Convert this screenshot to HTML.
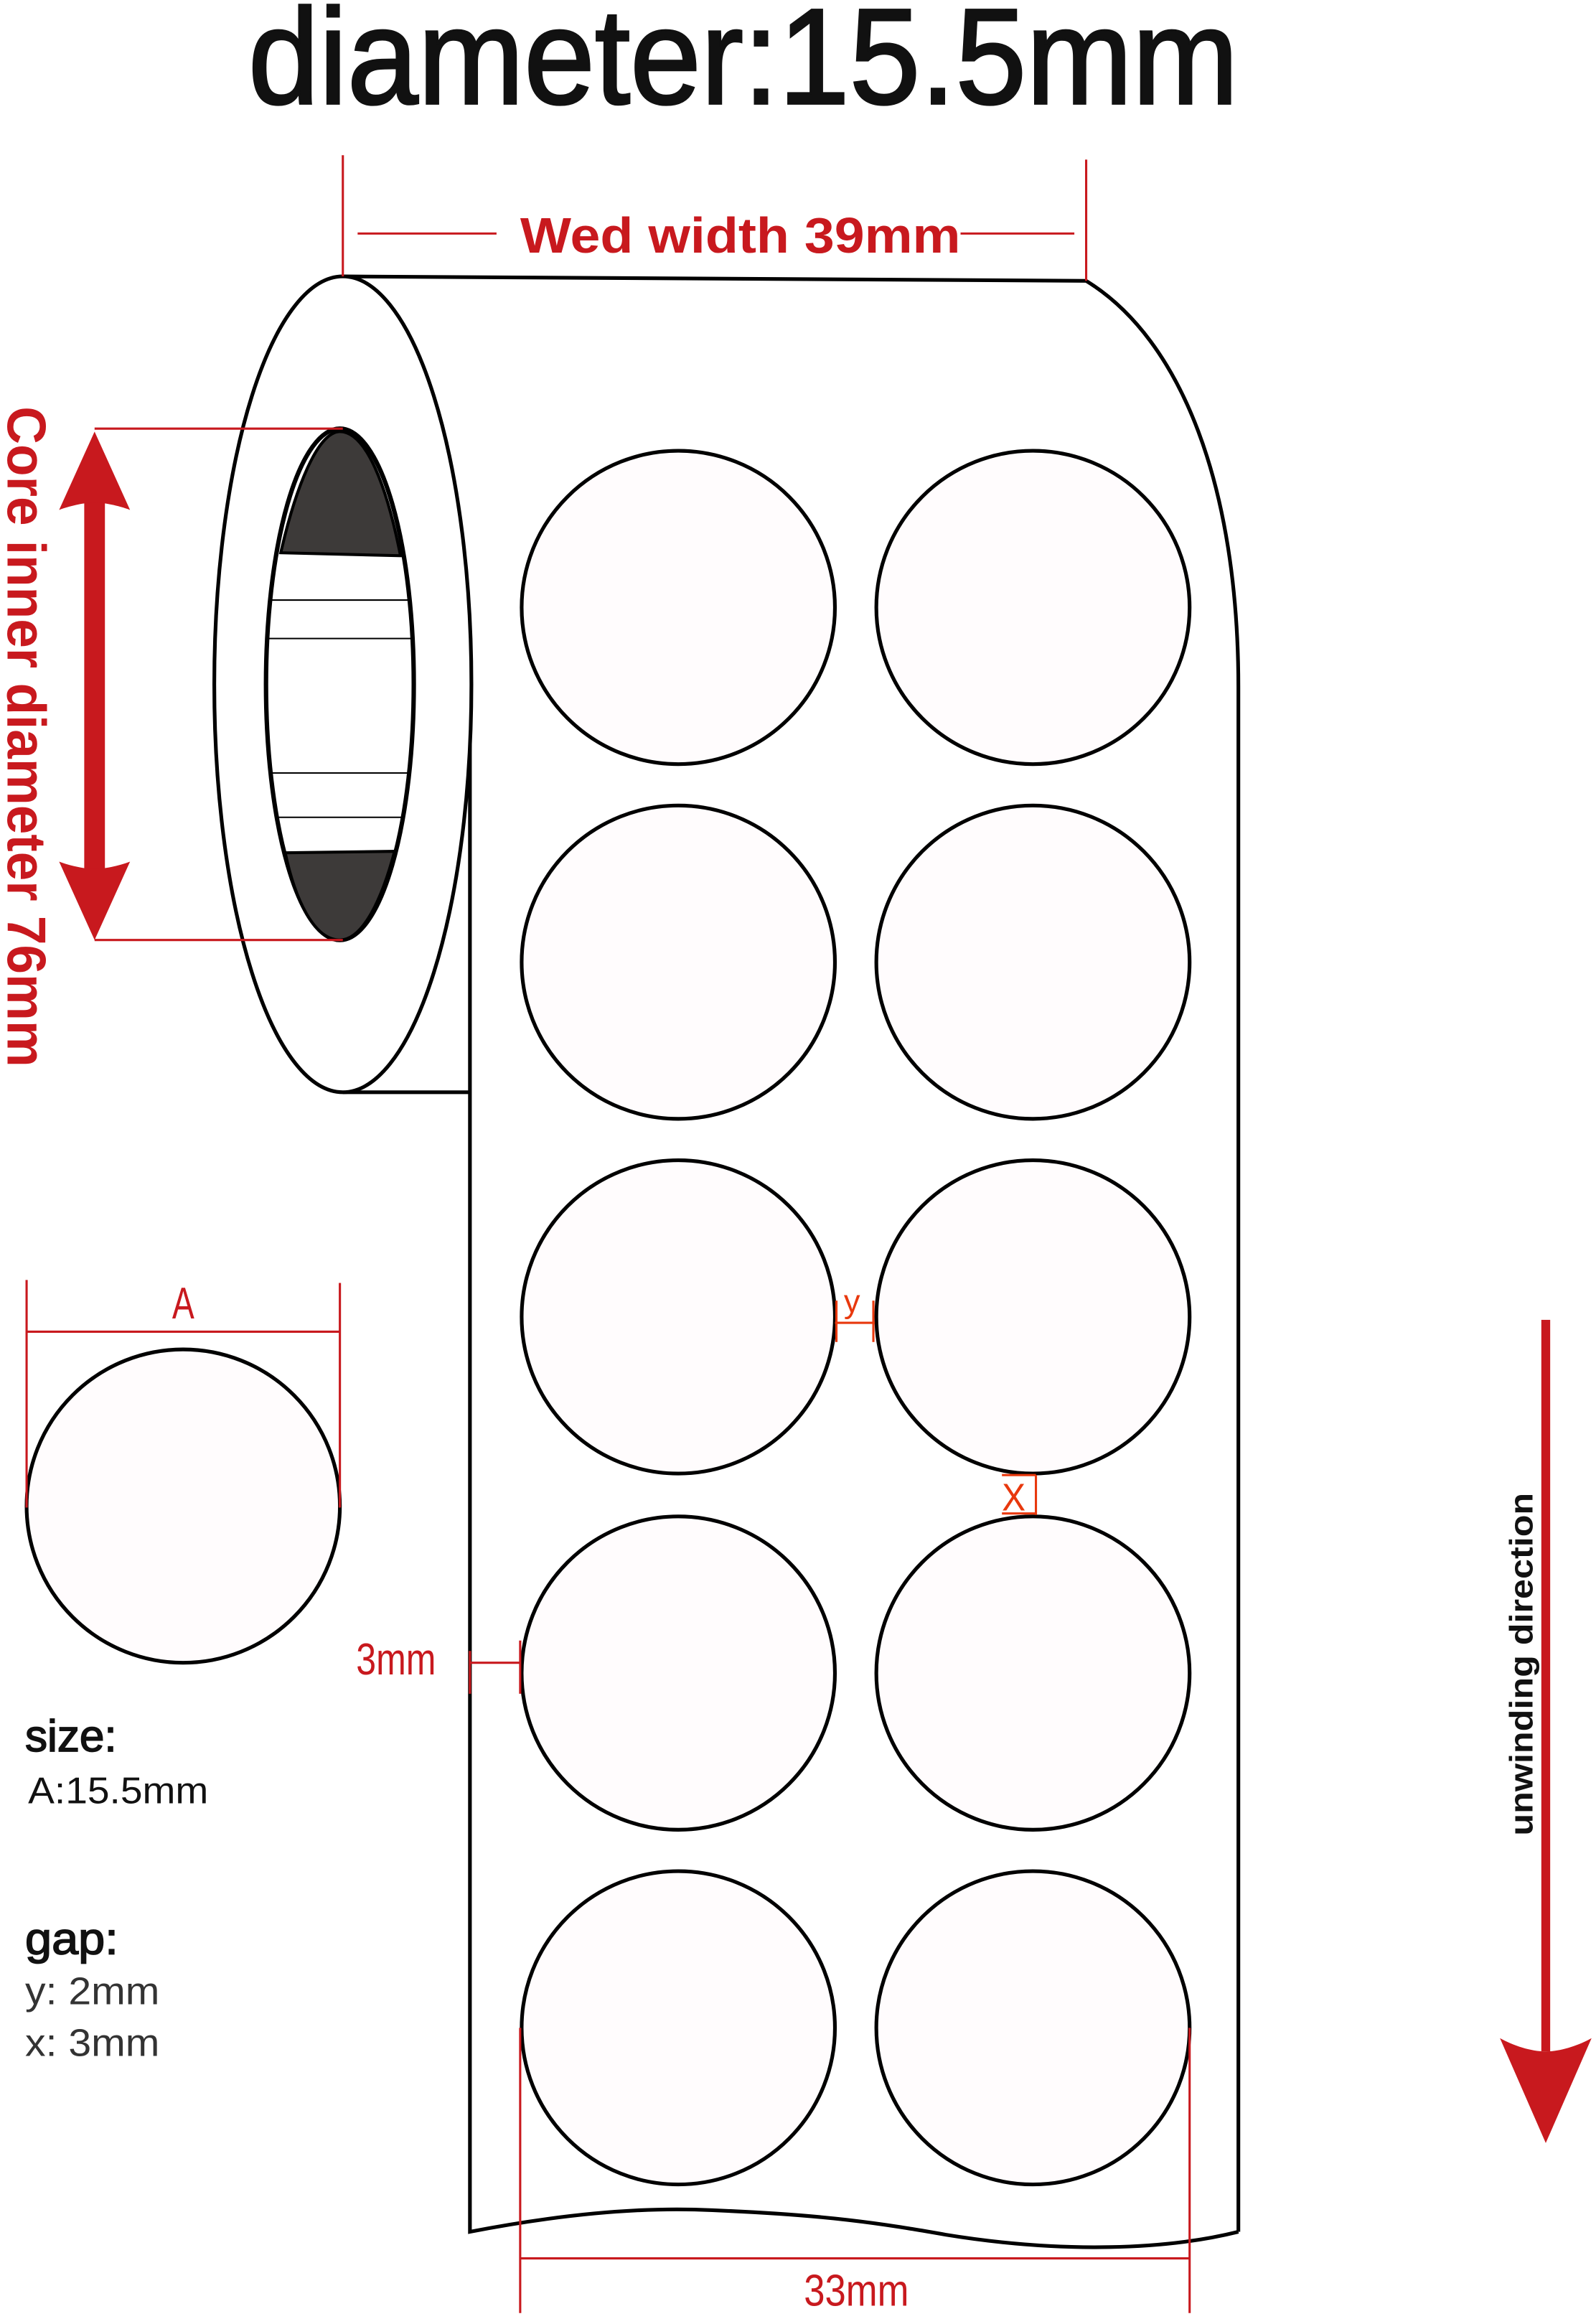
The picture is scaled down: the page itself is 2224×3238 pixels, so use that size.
<!DOCTYPE html>
<html><head><meta charset="utf-8"><style>
html,body{margin:0;padding:0;background:#fff;}
svg{display:block;}
</style></head><body>
<svg width="2224" height="3238" viewBox="0 0 1080 1572.4" xmlns="http://www.w3.org/2000/svg">
<rect width="1080" height="1573" fill="#fff"/>
<text x="168" y="70" font-family="Liberation Sans, sans-serif" font-size="92" textLength="670" lengthAdjust="spacingAndGlyphs" fill="#111" stroke="#111" stroke-width="1.6">diameter:15.5mm</text>

<g fill="none" stroke="#000" stroke-width="2.5">
<path d="M232,187 L735,190 C800,230 838,330 838,465 L838,1510"/>
<path d="M318,463 L318,1510 C380,1498 430,1494 470,1495 C560,1498 600,1505 640,1512 C720,1525 790,1522 838,1510"/>
<path d="M232,739 L318,739"/>
</g>
<ellipse cx="232" cy="463" rx="87" ry="276" fill="#fff" stroke="#000" stroke-width="2.5"/>
<ellipse cx="230" cy="463" rx="50" ry="173" fill="#fff" stroke="#000" stroke-width="3"/>
<path d="M190,374 C200,330 215,292 230,292 C248,292 262,330 271,376 Z" fill="#3d3a39" stroke="#000" stroke-width="2"/>
<path d="M193,577 L267,576 C258,610 245,636 230,636 C213,636 200,610 193,577 Z" fill="#3d3a39" stroke="#000" stroke-width="2"/>
<g stroke="#000" stroke-width="1">
<line x1="184" y1="406" x2="276" y2="406"/>
<line x1="182" y1="432" x2="278" y2="432"/>
<line x1="184" y1="523" x2="277" y2="523"/>
<line x1="187" y1="553" x2="274" y2="553"/>
</g>

<g fill="#fffcfd" stroke="#000" stroke-width="2.5">
<circle cx="459" cy="411" r="106"/><circle cx="699" cy="411" r="106"/>
<circle cx="459" cy="651" r="106"/><circle cx="699" cy="651" r="106"/>
<circle cx="459" cy="891" r="106"/><circle cx="699" cy="891" r="106"/>
<circle cx="459" cy="1132" r="106"/><circle cx="699" cy="1132" r="106"/>
<circle cx="459" cy="1372" r="106"/><circle cx="699" cy="1372" r="106"/>
<circle cx="124" cy="1019" r="106"/>
</g>

<g stroke="#c8191e" stroke-width="1.5" fill="none">
<line x1="232" y1="105" x2="232" y2="187"/>
<line x1="735" y1="108" x2="735" y2="190"/>
<line x1="242" y1="158" x2="336" y2="158"/>
<line x1="650" y1="158" x2="727" y2="158"/>
<line x1="64" y1="290" x2="232" y2="290"/>
<line x1="64" y1="636" x2="232" y2="636"/>
<line x1="18" y1="866" x2="18" y2="1020"/>
<line x1="230" y1="868" x2="230" y2="1020"/>
<line x1="18" y1="901" x2="230" y2="901"/>
<line x1="318" y1="1125" x2="352" y2="1125"/>
<line x1="318" y1="1117" x2="318" y2="1146"/>
<line x1="352" y1="1110" x2="352" y2="1146"/>
<line x1="352" y1="1372" x2="352" y2="1565"/>
<line x1="805" y1="1372" x2="805" y2="1565"/>
<line x1="352" y1="1528" x2="805" y2="1528"/>
</g>
<g stroke="#e8380d" stroke-width="1.5">
<line x1="565" y1="895" x2="592" y2="895"/>
<line x1="566" y1="880" x2="566" y2="908"/>
<line x1="591" y1="880" x2="591" y2="908"/>
<line x1="701" y1="998" x2="701" y2="1025"/>
<line x1="678" y1="998" x2="701" y2="998"/>
<line x1="678" y1="1024" x2="701" y2="1024"/>
</g>
<text x="352" y="171" font-family="Liberation Sans, sans-serif" font-weight="bold" font-size="34" textLength="298" lengthAdjust="spacingAndGlyphs" fill="#c8191e">Wed width 39mm</text>

<g fill="#c8191e">
<rect x="57" y="335" width="14" height="258"/>
<path d="M64,292 L88,345 C80,342 70,340 64,340 C58,340 48,342 40,345 Z"/>
<path d="M64,636 L88,583 C80,586 70,588 64,588 C58,588 48,586 40,583 Z"/>
</g>
<text transform="translate(5,275) rotate(90)" font-family="Liberation Sans, sans-serif" font-weight="bold" font-size="37" textLength="447" lengthAdjust="spacingAndGlyphs" fill="#c8191e">Core inner diameter 76mm</text>

<g font-family="Liberation Sans, sans-serif" fill="#c8191e">
<text x="124" y="892" text-anchor="middle" font-size="30" transform="translate(124,0) scale(0.75,1) translate(-124,0)">A</text>
<text x="241" y="1133" font-size="30" textLength="54" lengthAdjust="spacingAndGlyphs">3mm</text>
<text x="544" y="1560" font-size="30" textLength="71" lengthAdjust="spacingAndGlyphs">33mm</text>
<text x="571" y="888" font-size="22" fill="#e8380d">y</text>
<text x="678" y="1022" font-size="26" fill="#e8380d" textLength="16" lengthAdjust="spacingAndGlyphs">X</text>
</g>

<g font-family="Liberation Sans, sans-serif" fill="#111">
<text x="17" y="1185" font-size="30" textLength="62" lengthAdjust="spacingAndGlyphs" stroke="#111" stroke-width="0.8">size:</text>
<text x="19" y="1220" font-size="25" textLength="122" lengthAdjust="spacingAndGlyphs">A:15.5mm</text>
<text x="17" y="1322" font-size="30" textLength="63" lengthAdjust="spacingAndGlyphs" stroke="#111" stroke-width="0.8">gap:</text>
<text x="17" y="1356" font-size="26" textLength="91" lengthAdjust="spacingAndGlyphs" fill="#333">y: 2mm</text>
<text x="17" y="1391" font-size="26" textLength="91" lengthAdjust="spacingAndGlyphs" fill="#333">x: 3mm</text>
</g>

<rect x="1043" y="893" width="6" height="495" fill="#c8191e"/>
<path d="M1046,1450 L1077,1379 C1068,1384 1056,1388 1046,1388 C1036,1388 1024,1384 1015,1379 Z" fill="#c8191e"/>
<text transform="translate(1037,1242) rotate(-90)" font-family="Liberation Sans, sans-serif" font-weight="bold" font-size="22" textLength="232" lengthAdjust="spacingAndGlyphs" fill="#111">unwinding direction</text>
</svg>
</body></html>
